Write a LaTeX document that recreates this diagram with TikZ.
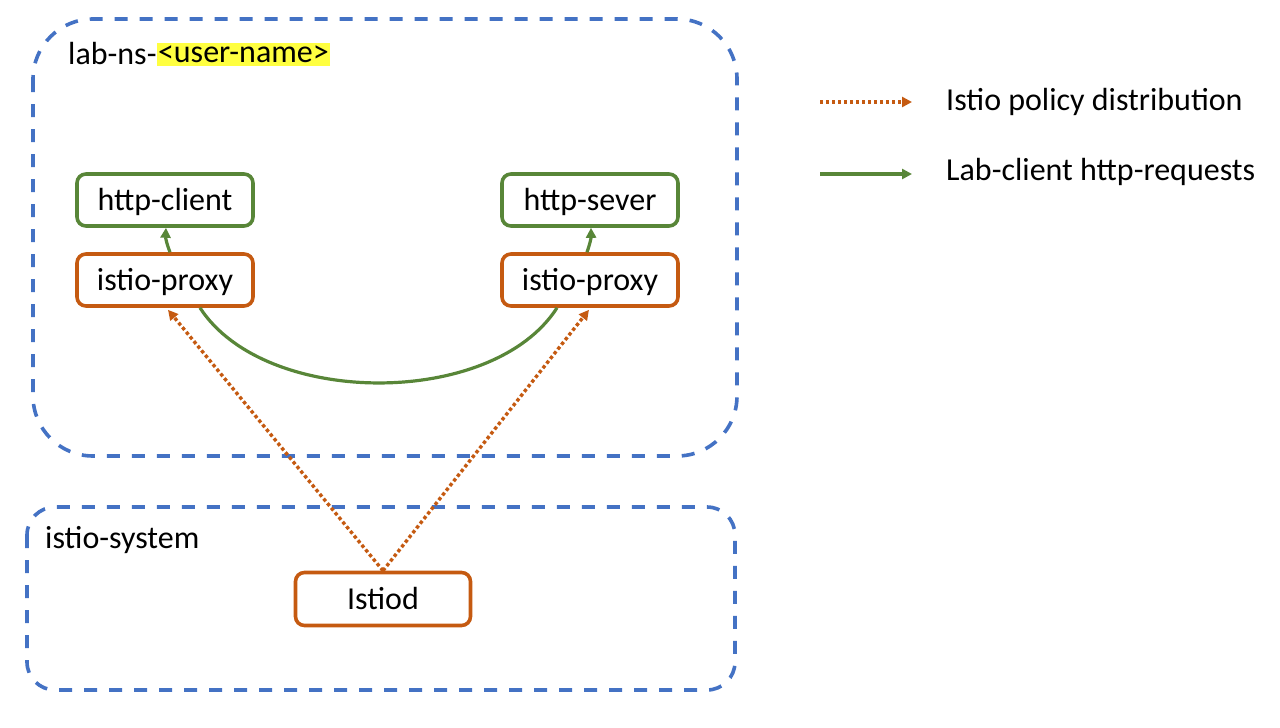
\documentclass[tikz,border=0pt]{standalone}
\usepackage{fontspec}
\setmainfont{Carlito}
\usetikzlibrary{arrows.meta}
\definecolor{boxblue}{RGB}{68,114,196}
\definecolor{okgreen}{RGB}{88,134,56}
\definecolor{okorange}{RGB}{197,90,17}
\definecolor{hiyellow}{RGB}{255,255,64}
\tikzset{
  ns/.style={draw=boxblue, line width=3.6pt, dash pattern=on 13pt off 12pt},
  appbox/.style={draw=okgreen, line width=3.6pt, rounded corners=9pt, minimum width=176pt, minimum height=52pt, text height=21pt, text depth=1pt, font=\fontsize{32}{38}\selectfont},
  proxybox/.style={draw=okorange, line width=3.6pt, rounded corners=9pt, minimum width=176pt, minimum height=52pt, text height=21pt, text depth=1pt, font=\fontsize{32}{38}\selectfont},
  lbl/.style={font=\fontsize{32}{38}\selectfont, inner sep=0pt, anchor=west},
  greenarrow/.style={draw=okgreen, line width=3.2pt, -{Triangle[length=10pt,width=10pt]}},
  greenline/.style={draw=okgreen, line width=3.2pt},
  orangearrow/.style={draw=okorange, line width=3.4pt, dash pattern=on 3.4pt off 2.6pt, -{Triangle[length=10pt,width=10pt]}},
}
\begin{document}
\begin{tikzpicture}[x=1pt,y=-1pt]
\useasboundingbox (0,0) rectangle (1280,728);
% namespaces
\draw[ns, rounded corners=60pt] (33,19) rectangle (737,456);
\draw[ns, rounded corners=28pt] (27,507) rectangle (735,690);
% labels
\node[lbl] (nslbl) at (68,54) {lab-ns-};
\node[lbl, fill=hiyellow, inner xsep=1pt, inner ysep=3pt, anchor=west] (user) at (nslbl.east) {<user-name>};
\node[lbl] (syslbl) at (45,540) {istio-system};
% nodes
\node[appbox] (hc) at (165,200) {http-client};
\node[appbox] (hs) at (590,200) {http-sever};
\node[proxybox] (lp) at (165,280) {istio-proxy};
\node[proxybox] (rp) at (590,280) {istio-proxy};
\node[proxybox, minimum width=175pt, minimum height=53pt] (istiod) at (383,599) {Istiod};
% green arrows
\draw[greenarrow] ([xshift=5pt]lp.north) to[bend left=12] ([xshift=1pt]hc.south);
\draw[greenarrow] ([xshift=-3pt]rp.north) to[bend right=10] ([xshift=1pt]hs.south);
\coordinate (c1) at (265,408);
\coordinate (c2) at (493,408);
\draw[greenline] ([xshift=35pt]lp.south) .. controls (c1) and (c2) .. ([xshift=-33pt]rp.south);
% orange arrows
\draw[orangearrow] (istiod.north) -- ([xshift=3pt,yshift=-2pt]lp.south);
\draw[orangearrow] (istiod.north) -- ([xshift=-1pt,yshift=-2pt]rp.south);
% legend
\coordinate (l1a) at (820,102);
\coordinate (l1b) at (912,102);
\coordinate (l2a) at (820,174);
\coordinate (l2b) at (912,174);
\draw[orangearrow] (l1a) -- (l1b);
\draw[greenarrow] (l2a) -- (l2b);
\node[lbl] (t1) at (946,102) {Istio policy distribution};
\node[lbl] (t2) at (946,172) {Lab-client http-requests};
\end{tikzpicture}
\end{document}
